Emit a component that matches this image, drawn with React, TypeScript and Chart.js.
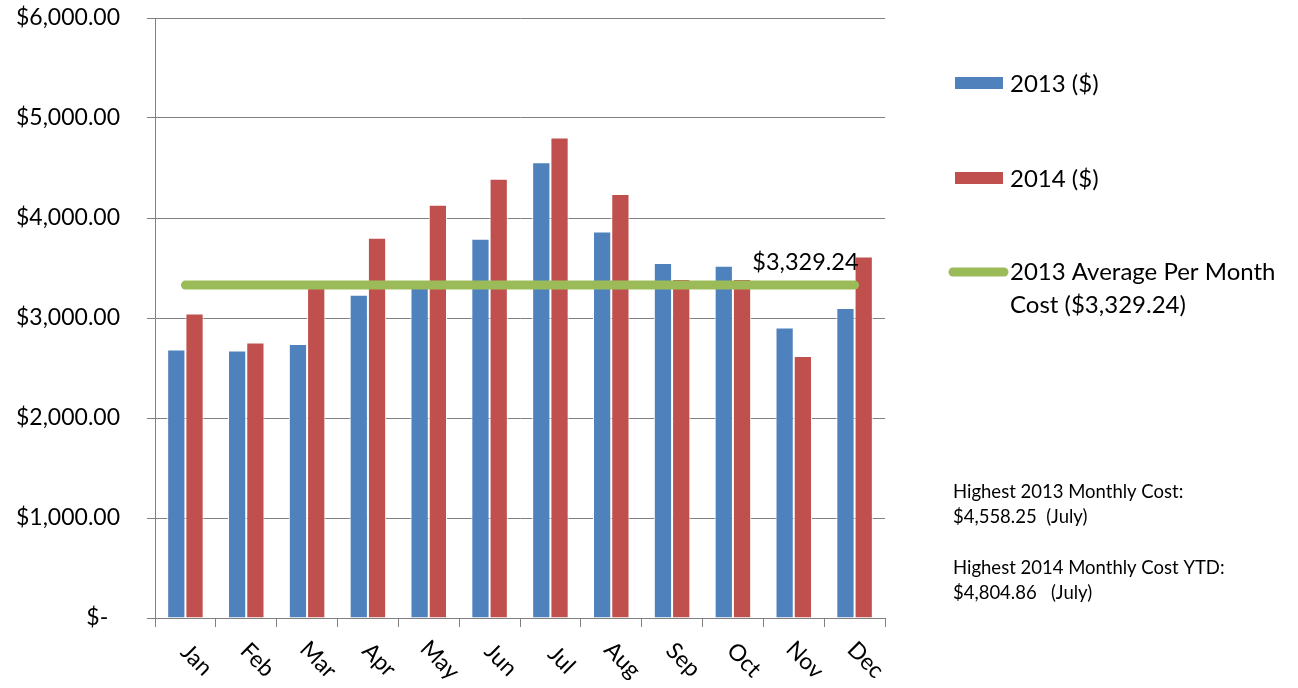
import React, { useEffect, useRef } from "react";
import { Chart, registerables } from "chart.js";

Chart.register(...registerables);

const months = ["Jan", "Feb", "Mar", "Apr", "May", "Jun", "Jul", "Aug", "Sep", "Oct", "Nov", "Dec"];
const values2013 = [2685, 2675, 2740, 3232, 3329, 3792, 4558.25, 3865, 3550, 3522, 2905, 3100];
const values2014 = [3045, 2755, 3300, 3802, 4132, 4392, 4804.86, 4240, 3390, 3390, 2619, 3615];
const average2013 = 3329.24;
const averageLabel = "$3,329.24";
const yTickLabels = ["$-  ", "$1,000.00", "$2,000.00", "$3,000.00", "$4,000.00", "$5,000.00", "$6,000.00"];
const legendLabels = ["2013 ($)", "2014 ($)", "2013 Average Per Month", "Cost ($3,329.24)"];
const noteLines = [
  "Highest 2013 Monthly Cost:",
  "$4,558.25  (July)",
  "Highest 2014 Monthly Cost YTD:",
  "$4,804.86   (July)",
];

const BLUE = "#4F81BD";
const RED = "#C0504D";
const GREEN = "#9BBB59";
const FONT = "Lato, 'Open Sans', sans-serif";

const overlayPlugin = {
  id: "overlay",
  afterDraw(chart: any) {
    const ctx = chart.ctx;
    const xs = chart.scales.x;
    const ys = chart.scales.y;
    ctx.save();
    ctx.fillStyle = "#000";
    // x labels rotated clockwise
    ctx.font = `23px ${FONT}`;
    ctx.textAlign = "center";
    ctx.textBaseline = "middle";
    months.forEach((m, i) => {
      const x = xs.getPixelForValue(i);
      ctx.save();
      ctx.translate(x + 11, ys.bottom + 42);
      ctx.rotate(Math.PI / 4);
      ctx.fillText(m, 0, 0);
      ctx.restore();
    });
    // average label
    const meta = chart.getDatasetMeta(2);
    const last = meta.data[meta.data.length - 1];
    ctx.font = `23.5px ${FONT}`;
    ctx.textAlign = "right";
    ctx.textBaseline = "alphabetic";
    ctx.fillText(averageLabel, last.x + 4, last.y - 15);

    // legend
    ctx.textAlign = "left";
    ctx.textBaseline = "middle";
    ctx.font = `24px ${FONT}`;
    ctx.fillStyle = BLUE;
    ctx.fillRect(955, 77, 48, 12);
    ctx.fillStyle = RED;
    ctx.fillRect(955, 172, 48, 12);
    ctx.strokeStyle = GREEN;
    ctx.lineWidth = 9;
    ctx.lineCap = "round";
    ctx.beginPath();
    ctx.moveTo(953, 272);
    ctx.lineTo(1004, 272);
    ctx.stroke();
    ctx.fillStyle = "#000";
    ctx.fillText(legendLabels[0], 1010, 84);
    ctx.fillText(legendLabels[1], 1010, 179);
    ctx.fillText(legendLabels[2], 1010, 272);
    ctx.fillText(legendLabels[3], 1010, 305);

    // notes
    ctx.font = `18.5px ${FONT}`;
    ctx.fillText(noteLines[0], 953, 492);
    ctx.fillText(noteLines[1], 953, 517);
    ctx.fillText(noteLines[2], 953, 568);
    ctx.fillText(noteLines[3], 953, 593);
    ctx.restore();
  },
};

export default function App() {
  const canvasRef = useRef<HTMLCanvasElement | null>(null);

  useEffect(() => {
    document.body.style.margin = "0";
    const canvas = canvasRef.current;
    if (!canvas) return;
    const chart = new Chart(canvas, {
      type: "bar",
      data: {
        labels: months,
        datasets: [
          {
            type: "bar",
            label: "2013 ($)",
            data: values2013,
            backgroundColor: BLUE,
            borderColor: "#ffffff",
            borderWidth: 1,
            order: 2,
          },
          {
            type: "bar",
            label: "2014 ($)",
            data: values2014,
            backgroundColor: RED,
            borderColor: "#ffffff",
            borderWidth: 1,
            order: 2,
          },
          {
            type: "line",
            label: "2013 Average Per Month Cost ($3,329.24)",
            data: months.map(() => average2013),
            borderColor: GREEN,
            borderWidth: 9,
            borderCapStyle: "round",
            pointRadius: 0,
            fill: false,
            order: 0,
          } as any,
        ],
      },
      options: {
        responsive: false,
        animation: false,
        layout: { padding: { top: 18, right: 413, bottom: 61, left: 0 } },
        plugins: {
          legend: { display: false },
          tooltip: { enabled: false },
        },
        datasets: {
          bar: { categoryPercentage: 0.6, barPercentage: 1 },
        },
        scales: {
          x: {
            offset: true,
            grid: {
              offset: true,
              drawOnChartArea: false,
              drawTicks: true,
              tickLength: 9,
              color: "#808080",
              lineWidth: 1,
            },
            border: { color: "#808080", width: 1 },
            ticks: { display: false },
            afterFit: (s: any) => {
              s.height = 9;
              s.paddingLeft = 0;
              s.paddingRight = 0;
            },
          },
          y: {
            min: 0,
            max: 6000,
            ticks: {
              stepSize: 1000,
              padding: 27,
              color: "#000",
              font: { family: FONT, size: 23 },
              callback: (_v: any, i: number) => yTickLabels[i],
            },
            grid: { color: "#808080", lineWidth: 1, tickLength: 8 },
            border: { color: "#808080", width: 1 },
            afterFit: (s: any) => {
              s.width = 155;
              s.paddingTop = 0;
              s.paddingBottom = 0;
            },
          },
        },
      },
      plugins: [overlayPlugin],
    });
    return () => chart.destroy();
  }, []);

  return <canvas ref={canvasRef} width={1298} height={688} style={{ display: "block" }} />;
}
